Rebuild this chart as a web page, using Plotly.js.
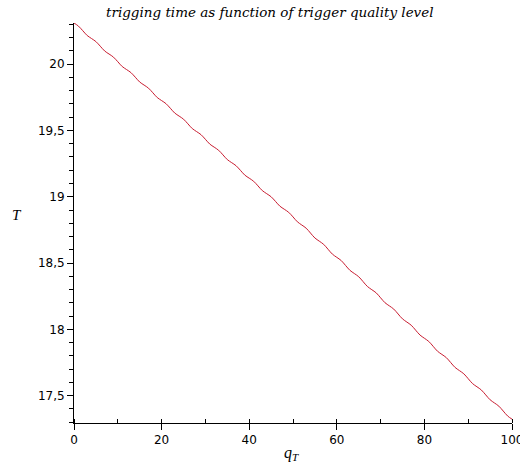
<!DOCTYPE html>
<html>
<head>
<meta charset="utf-8">
<script src="https://cdn.plot.ly/plotly-3.0.1.min.js"></script>
<style>html,body{margin:0;padding:0;background:#fff;}#chart{width:520px;height:471px;}</style>
</head>
<body>
<div id="chart"></div>
<script>
// trigger quality level q_T (0..100)
var qT = [
  0,1,2,3,4,5,6,7,8,9,10,11,12,13,14,15,16,17,18,19,
  20,21,22,23,24,25,26,27,28,29,30,31,32,33,34,35,36,37,38,39,
  40,41,42,43,44,45,46,47,48,49,50,51,52,53,54,55,56,57,58,59,
  60,61,62,63,64,65,66,67,68,69,70,71,72,73,74,75,76,77,78,79,
  80,81,82,83,84,85,86,87,88,89,90,91,92,93,94,95,96,97,98,99,100
];
// trigging time T
var T = [
  20.310,20.287,20.252,20.216,20.193,20.170,20.135,20.099,20.076,20.053,
  20.018,19.982,19.959,19.936,19.901,19.865,19.842,19.819,19.784,19.748,
  19.725,19.702,19.667,19.631,19.608,19.585,19.550,19.514,19.491,19.468,
  19.433,19.397,19.374,19.351,19.316,19.280,19.257,19.234,19.199,19.163,
  19.140,19.117,19.082,19.046,19.023,19.000,18.965,18.929,18.906,18.883,
  18.848,18.811,18.787,18.763,18.726,18.689,18.665,18.641,18.604,18.567,
  18.543,18.519,18.482,18.445,18.421,18.397,18.360,18.323,18.299,18.275,
  18.238,18.201,18.177,18.153,18.116,18.079,18.055,18.031,17.994,17.957,
  17.933,17.909,17.872,17.835,17.811,17.787,17.750,17.713,17.689,17.665,
  17.628,17.591,17.567,17.543,17.506,17.469,17.445,17.421,17.384,17.347,
  17.323
];
var titleText = "trigging time as function of trigger quality level";
var xLabel = "<i>q</i><sub><i>T</i></sub>";
var yLabel = "<i>T</i>";

var tickFont = {family: "DejaVu Sans", size: 12, color: "#000"};
var serif = "DejaVu Serif";

var trace = {
  x: qT, y: T, type: "scatter", mode: "lines",
  line: {color: "rgb(200,28,48)", width: 1, shape: "spline", smoothing: 1},
  hoverinfo: "skip"
};

var layout = {
  width: 520, height: 471,
  margin: {l: 74, r: 8, t: 23, b: 48, pad: 0},
  paper_bgcolor: "#fff", plot_bgcolor: "#fff",
  separators: ",.",
  showlegend: false,
  title: {
    text: "<i>" + titleText + "</i>",
    font: {family: serif, size: 13.5, color: "#000"},
    x: 0.447, xanchor: "center", y: 0.975, yanchor: "middle", xref: "paper", yref: "container"
  },
  xaxis: {
    range: [0, 100], showgrid: false, zeroline: false,
    showline: true, linecolor: "#000", linewidth: 1,
    ticks: "outside", ticklen: 6, tickwidth: 1, tickcolor: "#000",
    tick0: 0, dtick: 20, tickfont: tickFont, ticklabeloverflow: "allow",
    minor: {ticks: "inside", dtick: 10, ticklen: 4, tickcolor: "#000", tickwidth: 1, showgrid: false}
  },
  yaxis: {
    range: [17.294, 20.31], showgrid: false, zeroline: false,
    showline: true, linecolor: "#000", linewidth: 1,
    ticks: "outside", ticklen: 6, tickwidth: 1, tickcolor: "#000",
    tick0: 17.5, dtick: 0.5, tickfont: tickFont,
    minor: {ticks: "outside", dtick: 0.1, tick0: 17.5, ticklen: 4, tickcolor: "#000", tickwidth: 1, showgrid: false}
  },
  annotations: [
    {text: xLabel, xref: "paper", yref: "paper", x: 0.497, y: -0.075, xanchor: "center", yanchor: "middle",
     showarrow: false, font: {family: "Liberation Serif", size: 16, color: "#000"}},
    {text: yLabel, xref: "paper", yref: "paper", x: -0.13, y: 0.52, xanchor: "center", yanchor: "middle",
     showarrow: false, font: {family: "Liberation Serif", size: 15, color: "#000"}}
  ]
};

Plotly.newPlot("chart", [trace], layout, {displayModeBar: false, staticPlot: true});
</script>
</body>
</html>
